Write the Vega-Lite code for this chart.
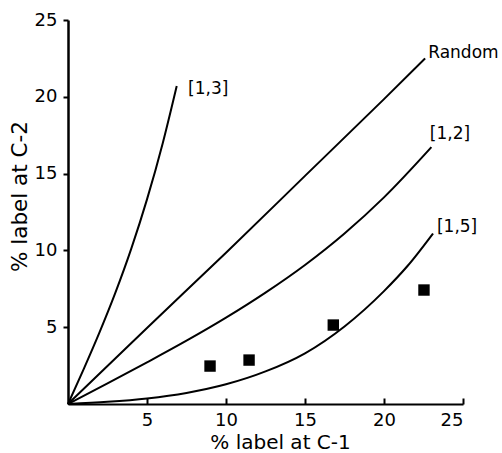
{
  "$schema": "https://vega.github.io/schema/vega-lite/v6.json",
  "autosize": "none",
  "padding": {"left": 68, "top": 20, "right": 39, "bottom": 49},
  "width": 395,
  "height": 384,
  "background": "white",
  "config": {
    "view": {"stroke": null},
    "font": "DejaVu Sans",
    "axis": {"grid": false, "domainColor": "black", "tickColor": "black", "labelColor": "black", "titleColor": "black", "labelFont": "DejaVu Sans", "titleFont": "DejaVu Sans", "labelFontSize": 18, "titleFontSize": 20, "titleFontWeight": "normal"}
  },
  "datasets": {
    "curves": [
      {"series": "Random", "x": 0, "y": 0},
      {"series": "Random", "x": 5, "y": 4.95},
      {"series": "Random", "x": 10, "y": 9.85},
      {"series": "Random", "x": 15, "y": 14.85},
      {"series": "Random", "x": 20, "y": 19.85},
      {"series": "Random", "x": 22.6, "y": 22.5},
      {"series": "[1,3]", "x": 0, "y": 0},
      {"series": "[1,3]", "x": 1, "y": 2.29},
      {"series": "[1,3]", "x": 2, "y": 4.68},
      {"series": "[1,3]", "x": 3, "y": 7.25},
      {"series": "[1,3]", "x": 4, "y": 10.1},
      {"series": "[1,3]", "x": 5, "y": 13.32},
      {"series": "[1,3]", "x": 6, "y": 17.0},
      {"series": "[1,3]", "x": 6.88, "y": 20.7},
      {"series": "[1,2]", "x": 0, "y": 0},
      {"series": "[1,2]", "x": 2.5, "y": 1.34},
      {"series": "[1,2]", "x": 5, "y": 2.71},
      {"series": "[1,2]", "x": 7.5, "y": 4.12},
      {"series": "[1,2]", "x": 10, "y": 5.62},
      {"series": "[1,2]", "x": 12.5, "y": 7.25},
      {"series": "[1,2]", "x": 15, "y": 9.05},
      {"series": "[1,2]", "x": 17.5, "y": 11.1},
      {"series": "[1,2]", "x": 20, "y": 13.45},
      {"series": "[1,2]", "x": 23, "y": 16.72},
      {"series": "[1,5]", "x": 0, "y": 0},
      {"series": "[1,5]", "x": 2.5, "y": 0.14},
      {"series": "[1,5]", "x": 5, "y": 0.36},
      {"series": "[1,5]", "x": 7.5, "y": 0.72},
      {"series": "[1,5]", "x": 10, "y": 1.28},
      {"series": "[1,5]", "x": 12.5, "y": 2.12},
      {"series": "[1,5]", "x": 15, "y": 3.3},
      {"series": "[1,5]", "x": 17.5, "y": 5.05},
      {"series": "[1,5]", "x": 20, "y": 7.35},
      {"series": "[1,5]", "x": 21.5, "y": 9.0},
      {"series": "[1,5]", "x": 23.1, "y": 11.1}
    ],
    "points": [
      {"x": 8.99, "y": 2.47},
      {"x": 11.46, "y": 2.86},
      {"x": 16.79, "y": 5.14},
      {"x": 22.53, "y": 7.42}
    ],
    "labels": [
      {"label": "[1,3]", "x": 7.6, "y": 20.5},
      {"label": "Random", "x": 22.8, "y": 22.85},
      {"label": "[1,2]", "x": 22.9, "y": 17.6},
      {"label": "[1,5]", "x": 23.35, "y": 11.5}
    ]
  },
  "layer": [
    {
      "data": {"name": "curves"},
      "mark": {"type": "line", "color": "black", "strokeWidth": 2, "interpolate": "monotone", "clip": false},
      "encoding": {
        "x": {"field": "x", "type": "quantitative", "scale": {"domain": [0, 25], "nice": false, "zero": false},
          "axis": {"values": [5, 10, 15, 20, 25], "title": "% label at C-1", "domainWidth": 2, "tickWidth": 2, "tickSize": -6, "labelPadding": 13, "titleAnchor": "start", "titleAlign": "center", "titleBaseline": "middle", "titleX": 212, "titleY": 38}},
        "y": {"field": "y", "type": "quantitative", "scale": {"domain": [0, 25], "nice": false, "zero": false},
          "axis": {"values": [5, 10, 15, 20, 25], "title": "% label at C-2", "titleFontSize": 21.5, "domainWidth": 2.5, "tickWidth": 2, "tickSize": 5, "labelPadding": 6, "titleAngle": 270, "titleAlign": "center", "titleBaseline": "middle", "titleX": -48, "titleY": 176}},
        "detail": {"field": "series", "type": "nominal"}
      }
    },
    {
      "data": {"name": "points"},
      "mark": {"type": "square", "color": "black", "filled": true, "opacity": 1, "size": 130},
      "encoding": {
        "x": {"field": "x", "type": "quantitative"},
        "y": {"field": "y", "type": "quantitative"}
      }
    },
    {
      "data": {"name": "labels"},
      "mark": {"type": "text", "align": "left", "baseline": "middle", "fontSize": 17, "color": "black", "clip": false},
      "encoding": {
        "x": {"field": "x", "type": "quantitative"},
        "y": {"field": "y", "type": "quantitative"},
        "text": {"field": "label"}
      }
    }
  ]
}
